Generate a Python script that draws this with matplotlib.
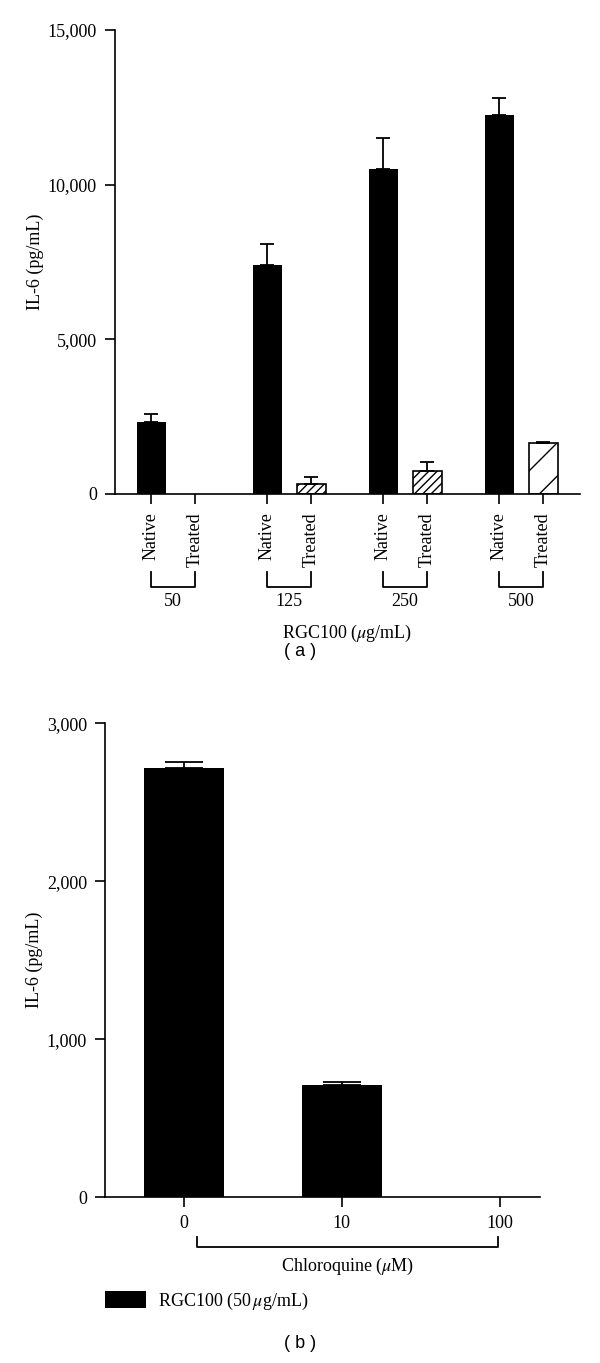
import numpy as np
import matplotlib.pyplot as plt
from matplotlib import transforms

plt.rcParams['font.family'] = ['Liberation Serif', 'DejaVu Serif']
plt.rcParams['mathtext.fontset'] = 'stix'

# panel (a) data
doses = ['50', '125', '250', '500']
native = [2340, 7400, 10500, 12250]
native_err = [240, 680, 1000, 550]
treated = [0, 320, 750, 1640]
treated_err = [0, 240, 280, 30]
treated_hatch = ['////', '////', '////', '/']

# panel (b) data
chloro = ['0', '10', '100']
il6_b = [2720, 710, 0]
il6_b_err = [35, 20, 0]

FS = 13
fig = plt.figure(figsize=(6, 13.63), dpi=100)
H = 1363.0

def fy(py):
    return 1 - py / H

# ---------- (a) ----------
ax = fig.add_axes([115/600, fy(494), (580-115)/600, (494-30)/H])
k = 116/44
w = 29/44
xn = np.arange(len(doses)) * k
xt = xn + 1
ax.bar(xn, native, width=w, color='black', lw=0,
       yerr=[np.zeros(4), native_err], capsize=5, error_kw=dict(lw=1.3, capthick=1.3))
for i in range(len(doses)):
    if treated[i] > 0:
        ax.bar(xt[i], treated[i], width=w, color='white', edgecolor='black', lw=1.2,
               hatch=treated_hatch[i], yerr=[[0], [treated_err[i]]], capsize=5,
               error_kw=dict(lw=1.3, capthick=1.3))
ax.set_xlim(-36/44, (580-151)/44)
ax.set_ylim(0, 15000)
ax.set_yticks([0, 5000, 10000, 15000])
ax.set_yticklabels(['0', '5,000', '10,000', '15,000'])
ticks = np.sort(np.concatenate([xn, xt]))
ax.set_xticks(ticks)
ax.set_xticklabels(['Native', 'Treated'] * 4, rotation=90, va='top')
ax.tick_params(axis='both', direction='out', length=7, width=1.2, labelsize=FS, pad=6)
for s in ['top', 'right']:
    ax.spines[s].set_visible(False)
for s in ['left', 'bottom']:
    ax.spines[s].set_linewidth(1.2)
ax.set_ylabel('IL-6 (pg/mL)', fontsize=FS, labelpad=3)

tr = transforms.blended_transform_factory(ax.transData, fig.transFigure)
for i, d in enumerate(doses):
    ax.plot([xn[i], xn[i], xt[i], xt[i]], [fy(572), fy(587), fy(587), fy(572)],
            color='black', lw=1.3, transform=tr, clip_on=False)
    ax.text((xn[i] + xt[i]) / 2, fy(602), d, transform=tr, ha='center', va='center',
            fontsize=FS)
fig.text((115 + 580) / 2 / 600, fy(633), r'RGC100 ($\mu$g/mL)', ha='center', va='center',
         fontsize=FS)
fig.text(0.5, fy(652), '( a )', ha='center', va='center', fontsize=FS,
         family='Liberation Sans')

# ---------- (b) ----------
bx = fig.add_axes([105/600, fy(1197.3), (540-105)/600, (1197.3-723.3)/H])
xb = np.arange(len(chloro))
vals_b = np.array(il6_b)
errs_b = np.array(il6_b_err)
m = vals_b > 0
bx.bar(xb[m], vals_b[m], width=80/158, color='black', lw=0,
       yerr=[np.zeros(m.sum()), errs_b[m]], capsize=14, error_kw=dict(lw=1.3, capthick=1.3),
       label=r'RGC100 (50$\,\mu$g/mL)')
bx.set_xlim((105 - 183.7) / 158, (540 - 183.7) / 158)
bx.set_ylim(0, 3000)
bx.set_yticks([0, 1000, 2000, 3000])
bx.set_yticklabels(['0', '1,000', '2,000', '3,000'])
bx.set_xticks(xb)
bx.set_xticklabels(chloro)
bx.tick_params(axis='both', direction='out', length=7, width=1.2, labelsize=FS, pad=6)
for s in ['top', 'right']:
    bx.spines[s].set_visible(False)
for s in ['left', 'bottom']:
    bx.spines[s].set_linewidth(1.2)
bx.set_ylabel('IL-6 (pg/mL)', fontsize=FS, labelpad=3)

trb = transforms.blended_transform_factory(bx.transData, fig.transFigure)
b0 = (197 - 183.7) / 158
b1 = (498 - 183.7) / 158
bx.plot([b0, b0, b1, b1], [fy(1237), fy(1247), fy(1247), fy(1237)], color='black',
        lw=1.3, transform=trb, clip_on=False)
bx.text((b0 + b1) / 2, fy(1266), r'Chloroquine ($\mu$M)', transform=trb, ha='center',
        va='center', fontsize=FS)

fs_px = FS * 100 / 72
fig.legend(loc='center left', bbox_to_anchor=(105/600, fy(1301)), frameon=False,
           fontsize=FS, handlelength=41/fs_px, handleheight=19/fs_px,
           handletextpad=12/fs_px, borderpad=0, borderaxespad=0)
fig.text(0.5, fy(1343), '( b )', ha='center', va='center', fontsize=FS,
         family='Liberation Sans')

fig.savefig('out.png', dpi=100)
